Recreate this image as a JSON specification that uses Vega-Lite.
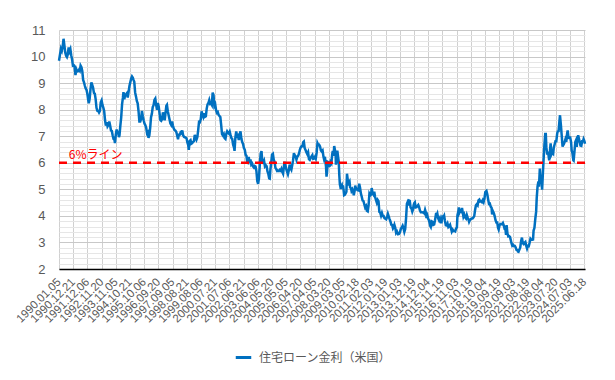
{
"$schema": "https://vega.github.io/schema/vega-lite/v6.json",
"width": 526, "height": 239,
"autosize": "none",
"padding": {"left": 59, "top": 30, "right": 30, "bottom": 111},
"background": "white",
"config": {"view": {"stroke": null}, "font": "Liberation Sans"},
"resolve": {"axis": {"x": "independent", "y": "independent"}},
"layer": [
{
"data": {"values": [
{"d":"1990-01-05","v":9.84},{"d":"1990-02-02","v":10.11},{"d":"1990-02-23","v":10.30},{"d":"1990-03-16","v":10.22},{"d":"1990-04-06","v":10.38},{"d":"1990-04-27","v":10.67},{"d":"1990-05-18","v":10.42},{"d":"1990-06-08","v":10.15},{"d":"1990-06-29","v":10.03},{"d":"1990-07-20","v":9.98},{"d":"1990-08-10","v":10.08},{"d":"1990-08-31","v":10.34},{"d":"1990-09-21","v":10.20},{"d":"1990-10-12","v":10.28},{"d":"1990-11-02","v":10.05},{"d":"1990-11-23","v":9.90},{"d":"1990-12-14","v":9.66},
{"d":"1991-01-04","v":9.67},{"d":"1991-01-25","v":9.60},{"d":"1991-02-15","v":9.30},{"d":"1991-03-08","v":9.52},{"d":"1991-03-29","v":9.44},{"d":"1991-04-19","v":9.45},{"d":"1991-05-10","v":9.50},{"d":"1991-05-31","v":9.46},{"d":"1991-06-21","v":9.66},{"d":"1991-07-12","v":9.60},{"d":"1991-08-02","v":9.45},{"d":"1991-08-23","v":9.12},{"d":"1991-09-13","v":9.03},{"d":"1991-10-04","v":8.90},{"d":"1991-10-25","v":8.80},{"d":"1991-11-15","v":8.74},{"d":"1991-12-06","v":8.59},{"d":"1991-12-27","v":8.35},
{"d":"1992-01-10","v":8.24},{"d":"1992-01-31","v":8.42},{"d":"1992-02-21","v":8.78},{"d":"1992-03-13","v":9.03},{"d":"1992-04-03","v":8.93},{"d":"1992-04-24","v":8.82},{"d":"1992-05-15","v":8.63},{"d":"1992-06-05","v":8.60},{"d":"1992-06-26","v":8.40},{"d":"1992-07-17","v":8.07},{"d":"1992-08-07","v":7.96},{"d":"1992-08-28","v":7.95},{"d":"1992-09-18","v":7.89},{"d":"1992-10-09","v":7.95},{"d":"1992-10-30","v":8.28},{"d":"1992-11-20","v":8.35},{"d":"1992-12-11","v":8.18},
{"d":"1993-01-01","v":8.08},{"d":"1993-01-22","v":7.95},{"d":"1993-02-12","v":7.61},{"d":"1993-03-05","v":7.40},{"d":"1993-03-26","v":7.53},{"d":"1993-04-16","v":7.37},{"d":"1993-05-07","v":7.42},{"d":"1993-05-28","v":7.55},{"d":"1993-06-18","v":7.40},{"d":"1993-07-09","v":7.22},{"d":"1993-07-30","v":7.20},{"d":"1993-08-20","v":7.03},{"d":"1993-09-10","v":6.90},{"d":"1993-10-01","v":6.88},{"d":"1993-10-15","v":6.74},{"d":"1993-11-05","v":7.06},{"d":"1993-11-26","v":7.25},{"d":"1993-12-17","v":7.15},
{"d":"1994-01-07","v":7.09},{"d":"1994-01-21","v":6.97},{"d":"1994-02-04","v":7.04},{"d":"1994-02-25","v":7.40},{"d":"1994-03-18","v":7.71},{"d":"1994-04-08","v":8.20},{"d":"1994-04-29","v":8.45},{"d":"1994-05-13","v":8.66},{"d":"1994-06-03","v":8.39},{"d":"1994-06-24","v":8.56},{"d":"1994-07-15","v":8.58},{"d":"1994-08-05","v":8.62},{"d":"1994-08-26","v":8.46},{"d":"1994-09-16","v":8.67},{"d":"1994-10-07","v":8.89},{"d":"1994-10-28","v":9.03},{"d":"1994-11-18","v":9.17},{"d":"1994-12-09","v":9.25},{"d":"1994-12-30","v":9.20},
{"d":"1995-01-13","v":9.13},{"d":"1995-02-03","v":9.05},{"d":"1995-02-24","v":8.65},{"d":"1995-03-17","v":8.50},{"d":"1995-04-07","v":8.33},{"d":"1995-04-28","v":8.24},{"d":"1995-05-19","v":7.95},{"d":"1995-06-09","v":7.55},{"d":"1995-06-30","v":7.55},{"d":"1995-07-21","v":7.65},{"d":"1995-08-11","v":7.95},{"d":"1995-09-01","v":7.75},{"d":"1995-09-22","v":7.60},{"d":"1995-10-13","v":7.48},{"d":"1995-11-03","v":7.41},{"d":"1995-11-24","v":7.32},{"d":"1995-12-15","v":7.11},
{"d":"1996-01-05","v":7.15},{"d":"1996-01-19","v":6.94},{"d":"1996-02-09","v":7.03},{"d":"1996-03-01","v":7.31},{"d":"1996-03-22","v":7.72},{"d":"1996-04-12","v":7.85},{"d":"1996-05-03","v":8.10},{"d":"1996-05-24","v":8.17},{"d":"1996-06-14","v":8.37},{"d":"1996-07-05","v":8.42},{"d":"1996-07-26","v":8.18},{"d":"1996-08-16","v":8.00},{"d":"1996-09-06","v":8.25},{"d":"1996-09-27","v":8.12},{"d":"1996-10-18","v":7.86},{"d":"1996-11-08","v":7.61},{"d":"1996-11-29","v":7.58},{"d":"1996-12-20","v":7.64},
{"d":"1997-01-10","v":7.90},{"d":"1997-01-31","v":7.79},{"d":"1997-02-21","v":7.60},{"d":"1997-03-14","v":7.88},{"d":"1997-04-04","v":8.15},{"d":"1997-04-18","v":8.18},{"d":"1997-05-09","v":7.94},{"d":"1997-05-30","v":7.79},{"d":"1997-06-20","v":7.64},{"d":"1997-07-11","v":7.49},{"d":"1997-08-01","v":7.43},{"d":"1997-08-22","v":7.55},{"d":"1997-09-12","v":7.40},{"d":"1997-10-03","v":7.29},{"d":"1997-10-24","v":7.23},{"d":"1997-11-14","v":7.21},{"d":"1997-12-05","v":7.16},{"d":"1997-12-26","v":7.03},
{"d":"1998-01-16","v":6.89},{"d":"1998-02-06","v":7.06},{"d":"1998-02-27","v":7.06},{"d":"1998-03-20","v":7.14},{"d":"1998-04-10","v":7.11},{"d":"1998-05-01","v":7.22},{"d":"1998-05-22","v":7.04},{"d":"1998-06-12","v":6.98},{"d":"1998-07-03","v":6.96},{"d":"1998-07-24","v":6.95},{"d":"1998-08-14","v":6.92},{"d":"1998-09-04","v":6.77},{"d":"1998-09-25","v":6.66},{"d":"1998-10-09","v":6.49},{"d":"1998-10-30","v":6.82},{"d":"1998-11-20","v":6.85},{"d":"1998-12-11","v":6.72},
{"d":"1999-01-01","v":6.74},{"d":"1999-01-22","v":6.79},{"d":"1999-02-12","v":6.81},{"d":"1999-03-05","v":7.05},{"d":"1999-03-26","v":6.95},{"d":"1999-04-16","v":6.87},{"d":"1999-05-07","v":6.96},{"d":"1999-05-28","v":7.23},{"d":"1999-06-18","v":7.54},{"d":"1999-07-09","v":7.53},{"d":"1999-07-30","v":7.63},{"d":"1999-08-20","v":7.94},{"d":"1999-09-10","v":7.82},{"d":"1999-10-01","v":7.73},{"d":"1999-10-22","v":7.86},{"d":"1999-11-12","v":7.73},{"d":"1999-12-03","v":7.75},{"d":"1999-12-24","v":8.04},
{"d":"2000-01-14","v":8.20},{"d":"2000-02-04","v":8.25},{"d":"2000-02-25","v":8.36},{"d":"2000-03-17","v":8.22},{"d":"2000-04-07","v":8.24},{"d":"2000-04-28","v":8.18},{"d":"2000-05-19","v":8.64},{"d":"2000-06-09","v":8.55},{"d":"2000-06-30","v":8.14},{"d":"2000-07-21","v":8.20},{"d":"2000-08-11","v":7.98},{"d":"2000-09-01","v":7.88},{"d":"2000-09-22","v":7.91},{"d":"2000-10-13","v":7.80},{"d":"2000-11-03","v":7.76},{"d":"2000-11-24","v":7.72},{"d":"2000-12-15","v":7.42},
{"d":"2001-01-05","v":7.08},{"d":"2001-01-26","v":7.03},{"d":"2001-02-16","v":7.08},{"d":"2001-03-09","v":6.93},{"d":"2001-03-30","v":6.90},{"d":"2001-04-20","v":7.09},{"d":"2001-05-11","v":7.18},{"d":"2001-06-01","v":7.13},{"d":"2001-06-22","v":7.10},{"d":"2001-07-13","v":7.17},{"d":"2001-08-03","v":7.04},{"d":"2001-08-24","v":6.93},{"d":"2001-09-14","v":6.89},{"d":"2001-10-05","v":6.68},{"d":"2001-10-26","v":6.58},{"d":"2001-11-09","v":6.45},{"d":"2001-11-30","v":6.96},{"d":"2001-12-21","v":7.18},
{"d":"2002-01-11","v":7.00},{"d":"2002-02-01","v":7.03},{"d":"2002-02-22","v":6.86},{"d":"2002-03-15","v":7.07},{"d":"2002-04-05","v":7.18},{"d":"2002-04-26","v":6.91},{"d":"2002-05-17","v":6.78},{"d":"2002-06-07","v":6.71},{"d":"2002-06-28","v":6.55},{"d":"2002-07-19","v":6.49},{"d":"2002-08-09","v":6.30},{"d":"2002-08-30","v":6.26},{"d":"2002-09-20","v":6.00},{"d":"2002-10-11","v":5.99},{"d":"2002-10-25","v":6.22},{"d":"2002-11-15","v":6.00},{"d":"2002-12-06","v":6.13},{"d":"2002-12-27","v":5.93},
{"d":"2003-01-17","v":5.97},{"d":"2003-02-07","v":5.86},{"d":"2003-02-28","v":5.82},{"d":"2003-03-21","v":5.88},{"d":"2003-04-11","v":5.86},{"d":"2003-05-02","v":5.69},{"d":"2003-05-23","v":5.31},{"d":"2003-06-13","v":5.21},{"d":"2003-07-03","v":5.40},{"d":"2003-07-25","v":5.94},{"d":"2003-08-15","v":6.34},{"d":"2003-09-05","v":6.44},{"d":"2003-09-26","v":6.00},{"d":"2003-10-17","v":5.99},{"d":"2003-11-07","v":6.07},{"d":"2003-11-28","v":5.87},{"d":"2003-12-19","v":5.91},
{"d":"2004-01-09","v":5.87},{"d":"2004-01-30","v":5.67},{"d":"2004-02-20","v":5.58},{"d":"2004-03-12","v":5.41},{"d":"2004-03-26","v":5.40},{"d":"2004-04-09","v":5.71},{"d":"2004-04-30","v":6.00},{"d":"2004-05-21","v":6.31},{"d":"2004-06-11","v":6.34},{"d":"2004-07-02","v":6.12},{"d":"2004-07-23","v":6.04},{"d":"2004-08-13","v":5.81},{"d":"2004-09-03","v":5.76},{"d":"2004-09-24","v":5.69},{"d":"2004-10-15","v":5.70},{"d":"2004-11-05","v":5.69},{"d":"2004-11-26","v":5.73},{"d":"2004-12-17","v":5.70},
{"d":"2005-01-07","v":5.77},{"d":"2005-01-28","v":5.66},{"d":"2005-02-18","v":5.59},{"d":"2005-03-11","v":5.87},{"d":"2005-03-25","v":6.04},{"d":"2005-04-15","v":5.91},{"d":"2005-05-06","v":5.77},{"d":"2005-05-27","v":5.66},{"d":"2005-06-17","v":5.57},{"d":"2005-07-08","v":5.71},{"d":"2005-07-29","v":5.93},{"d":"2005-08-19","v":5.80},{"d":"2005-09-09","v":5.74},{"d":"2005-09-30","v":5.91},{"d":"2005-10-21","v":6.09},{"d":"2005-11-11","v":6.36},{"d":"2005-12-02","v":6.28},{"d":"2005-12-23","v":6.24},
{"d":"2006-01-13","v":6.12},{"d":"2006-02-03","v":6.23},{"d":"2006-02-24","v":6.26},{"d":"2006-03-17","v":6.35},{"d":"2006-04-07","v":6.49},{"d":"2006-04-28","v":6.58},{"d":"2006-05-19","v":6.62},{"d":"2006-06-09","v":6.62},{"d":"2006-06-30","v":6.78},{"d":"2006-07-14","v":6.80},{"d":"2006-08-04","v":6.55},{"d":"2006-08-25","v":6.48},{"d":"2006-09-15","v":6.40},{"d":"2006-10-06","v":6.33},{"d":"2006-10-27","v":6.40},{"d":"2006-11-17","v":6.14},{"d":"2006-12-08","v":6.11},{"d":"2006-12-29","v":6.18},
{"d":"2007-01-19","v":6.24},{"d":"2007-02-09","v":6.29},{"d":"2007-03-02","v":6.15},{"d":"2007-03-23","v":6.16},{"d":"2007-04-13","v":6.22},{"d":"2007-05-04","v":6.16},{"d":"2007-05-25","v":6.37},{"d":"2007-06-15","v":6.74},{"d":"2007-07-06","v":6.67},{"d":"2007-07-27","v":6.68},{"d":"2007-08-17","v":6.62},{"d":"2007-09-07","v":6.46},{"d":"2007-09-28","v":6.42},{"d":"2007-10-19","v":6.46},{"d":"2007-11-09","v":6.24},{"d":"2007-11-30","v":6.10},{"d":"2007-12-21","v":6.14},
{"d":"2008-01-11","v":5.87},{"d":"2008-01-24","v":5.48},{"d":"2008-02-07","v":5.67},{"d":"2008-02-21","v":6.04},{"d":"2008-03-06","v":6.03},{"d":"2008-03-20","v":5.87},{"d":"2008-04-10","v":5.88},{"d":"2008-05-01","v":6.03},{"d":"2008-05-22","v":5.98},{"d":"2008-06-12","v":6.32},{"d":"2008-06-26","v":6.45},{"d":"2008-07-17","v":6.26},{"d":"2008-07-31","v":6.63},{"d":"2008-08-14","v":6.52},{"d":"2008-09-04","v":6.35},{"d":"2008-09-11","v":5.93},{"d":"2008-10-02","v":6.10},{"d":"2008-10-16","v":6.46},{"d":"2008-11-06","v":6.20},{"d":"2008-11-20","v":6.04},{"d":"2008-12-04","v":5.53},{"d":"2008-12-18","v":5.19},{"d":"2008-12-31","v":5.10},
{"d":"2009-01-08","v":5.01},{"d":"2009-01-22","v":5.12},{"d":"2009-02-05","v":5.16},{"d":"2009-02-19","v":5.04},{"d":"2009-03-05","v":5.15},{"d":"2009-03-19","v":4.98},{"d":"2009-04-02","v":4.78},{"d":"2009-04-23","v":4.80},{"d":"2009-05-14","v":4.86},{"d":"2009-05-28","v":4.91},{"d":"2009-06-11","v":5.59},{"d":"2009-06-25","v":5.42},{"d":"2009-07-16","v":5.14},{"d":"2009-07-30","v":5.25},{"d":"2009-08-13","v":5.29},{"d":"2009-08-27","v":5.08},{"d":"2009-09-17","v":5.04},{"d":"2009-10-01","v":4.94},{"d":"2009-10-22","v":5.00},{"d":"2009-11-12","v":4.91},{"d":"2009-11-26","v":4.78},{"d":"2009-12-17","v":4.94},{"d":"2009-12-31","v":5.14},
{"d":"2010-01-14","v":5.06},{"d":"2010-02-04","v":5.01},{"d":"2010-02-25","v":4.97},{"d":"2010-03-18","v":4.96},{"d":"2010-04-08","v":5.21},{"d":"2010-04-29","v":5.06},{"d":"2010-05-20","v":4.84},{"d":"2010-06-10","v":4.72},{"d":"2010-07-01","v":4.58},{"d":"2010-07-22","v":4.56},{"d":"2010-08-12","v":4.44},{"d":"2010-09-02","v":4.32},{"d":"2010-09-23","v":4.37},{"d":"2010-10-14","v":4.19},{"d":"2010-11-04","v":4.17},{"d":"2010-11-25","v":4.40},{"d":"2010-12-16","v":4.83},
{"d":"2011-01-06","v":4.77},{"d":"2011-01-27","v":4.80},{"d":"2011-02-10","v":5.05},{"d":"2011-03-03","v":4.87},{"d":"2011-03-24","v":4.81},{"d":"2011-04-14","v":4.91},{"d":"2011-05-05","v":4.71},{"d":"2011-05-26","v":4.60},{"d":"2011-06-16","v":4.50},{"d":"2011-07-07","v":4.60},{"d":"2011-07-28","v":4.55},{"d":"2011-08-18","v":4.15},{"d":"2011-09-08","v":4.12},{"d":"2011-09-29","v":4.01},{"d":"2011-10-20","v":4.11},{"d":"2011-11-10","v":4.00},{"d":"2011-12-01","v":4.00},{"d":"2011-12-22","v":3.91},
{"d":"2012-01-12","v":3.89},{"d":"2012-02-02","v":3.87},{"d":"2012-02-23","v":3.95},{"d":"2012-03-15","v":4.08},{"d":"2012-04-05","v":3.98},{"d":"2012-04-26","v":3.88},{"d":"2012-05-17","v":3.79},{"d":"2012-06-07","v":3.67},{"d":"2012-06-28","v":3.66},{"d":"2012-07-19","v":3.53},{"d":"2012-08-09","v":3.59},{"d":"2012-08-23","v":3.66},{"d":"2012-09-13","v":3.55},{"d":"2012-10-04","v":3.36},{"d":"2012-10-25","v":3.41},{"d":"2012-11-21","v":3.31},{"d":"2012-12-13","v":3.32},{"d":"2012-12-27","v":3.35},
{"d":"2013-01-10","v":3.40},{"d":"2013-01-31","v":3.53},{"d":"2013-02-21","v":3.56},{"d":"2013-03-14","v":3.63},{"d":"2013-04-04","v":3.54},{"d":"2013-04-25","v":3.40},{"d":"2013-05-16","v":3.51},{"d":"2013-06-06","v":3.91},{"d":"2013-06-27","v":4.46},{"d":"2013-07-11","v":4.51},{"d":"2013-08-01","v":4.39},{"d":"2013-08-22","v":4.58},{"d":"2013-09-05","v":4.57},{"d":"2013-09-26","v":4.32},{"d":"2013-10-17","v":4.28},{"d":"2013-11-07","v":4.16},{"d":"2013-11-21","v":4.22},{"d":"2013-12-12","v":4.42},{"d":"2013-12-26","v":4.48},
{"d":"2014-01-09","v":4.51},{"d":"2014-01-30","v":4.32},{"d":"2014-02-20","v":4.33},{"d":"2014-03-13","v":4.37},{"d":"2014-04-03","v":4.41},{"d":"2014-04-24","v":4.33},{"d":"2014-05-15","v":4.20},{"d":"2014-06-05","v":4.14},{"d":"2014-06-26","v":4.14},{"d":"2014-07-17","v":4.13},{"d":"2014-08-07","v":4.14},{"d":"2014-08-28","v":4.10},{"d":"2014-09-18","v":4.23},{"d":"2014-10-09","v":4.12},{"d":"2014-10-23","v":3.92},{"d":"2014-11-13","v":4.01},{"d":"2014-12-04","v":3.89},{"d":"2014-12-24","v":3.83},
{"d":"2015-01-08","v":3.73},{"d":"2015-01-22","v":3.63},{"d":"2015-02-05","v":3.59},{"d":"2015-02-26","v":3.80},{"d":"2015-03-19","v":3.78},{"d":"2015-04-09","v":3.66},{"d":"2015-04-30","v":3.68},{"d":"2015-05-21","v":3.84},{"d":"2015-06-11","v":4.04},{"d":"2015-06-25","v":4.02},{"d":"2015-07-16","v":4.09},{"d":"2015-08-06","v":3.91},{"d":"2015-08-27","v":3.84},{"d":"2015-09-17","v":3.91},{"d":"2015-10-08","v":3.76},{"d":"2015-10-29","v":3.76},{"d":"2015-11-19","v":3.97},{"d":"2015-12-10","v":3.95},{"d":"2015-12-31","v":4.01},
{"d":"2016-01-21","v":3.81},{"d":"2016-02-11","v":3.65},{"d":"2016-03-03","v":3.64},{"d":"2016-03-24","v":3.71},{"d":"2016-04-14","v":3.58},{"d":"2016-05-05","v":3.61},{"d":"2016-05-26","v":3.66},{"d":"2016-06-16","v":3.54},{"d":"2016-07-07","v":3.41},{"d":"2016-07-28","v":3.48},{"d":"2016-08-18","v":3.43},{"d":"2016-09-08","v":3.44},{"d":"2016-09-29","v":3.42},{"d":"2016-10-20","v":3.52},{"d":"2016-11-10","v":3.57},{"d":"2016-11-24","v":4.03},{"d":"2016-12-15","v":4.16},{"d":"2016-12-29","v":4.32},
{"d":"2017-01-12","v":4.12},{"d":"2017-02-02","v":4.19},{"d":"2017-02-23","v":4.16},{"d":"2017-03-16","v":4.30},{"d":"2017-04-06","v":4.10},{"d":"2017-04-20","v":3.97},{"d":"2017-05-11","v":4.05},{"d":"2017-06-01","v":3.94},{"d":"2017-06-22","v":3.90},{"d":"2017-07-13","v":4.03},{"d":"2017-08-03","v":3.93},{"d":"2017-08-24","v":3.86},{"d":"2017-09-07","v":3.78},{"d":"2017-09-28","v":3.85},{"d":"2017-10-19","v":3.88},{"d":"2017-11-09","v":3.90},{"d":"2017-11-30","v":3.90},{"d":"2017-12-21","v":3.94},
{"d":"2018-01-11","v":3.99},{"d":"2018-02-01","v":4.22},{"d":"2018-02-22","v":4.40},{"d":"2018-03-15","v":4.44},{"d":"2018-04-05","v":4.40},{"d":"2018-04-26","v":4.58},{"d":"2018-05-17","v":4.61},{"d":"2018-06-07","v":4.54},{"d":"2018-06-28","v":4.55},{"d":"2018-07-19","v":4.52},{"d":"2018-08-09","v":4.59},{"d":"2018-08-30","v":4.52},{"d":"2018-09-20","v":4.65},{"d":"2018-10-11","v":4.90},{"d":"2018-11-08","v":4.94},{"d":"2018-11-29","v":4.81},{"d":"2018-12-20","v":4.62},
{"d":"2019-01-10","v":4.45},{"d":"2019-01-31","v":4.46},{"d":"2019-02-21","v":4.35},{"d":"2019-03-14","v":4.31},{"d":"2019-03-28","v":4.06},{"d":"2019-04-18","v":4.17},{"d":"2019-05-09","v":4.10},{"d":"2019-05-30","v":3.99},{"d":"2019-06-20","v":3.84},{"d":"2019-07-11","v":3.75},{"d":"2019-08-01","v":3.75},{"d":"2019-08-22","v":3.55},{"d":"2019-09-05","v":3.49},{"d":"2019-09-26","v":3.64},{"d":"2019-10-17","v":3.69},{"d":"2019-11-07","v":3.69},{"d":"2019-11-28","v":3.68},{"d":"2019-12-19","v":3.73},
{"d":"2020-01-09","v":3.64},{"d":"2020-01-30","v":3.51},{"d":"2020-02-20","v":3.49},{"d":"2020-03-05","v":3.29},{"d":"2020-03-19","v":3.65},{"d":"2020-04-09","v":3.33},{"d":"2020-04-30","v":3.23},{"d":"2020-05-21","v":3.24},{"d":"2020-06-11","v":3.21},{"d":"2020-07-02","v":3.07},{"d":"2020-07-16","v":2.98},{"d":"2020-08-06","v":2.88},{"d":"2020-08-27","v":2.91},{"d":"2020-09-17","v":2.87},{"d":"2020-10-08","v":2.87},{"d":"2020-10-29","v":2.81},{"d":"2020-11-19","v":2.72},{"d":"2020-12-10","v":2.71},{"d":"2020-12-24","v":2.66},
{"d":"2021-01-07","v":2.65},{"d":"2021-01-28","v":2.73},{"d":"2021-02-18","v":2.81},{"d":"2021-03-11","v":3.05},{"d":"2021-04-01","v":3.18},{"d":"2021-04-22","v":2.97},{"d":"2021-05-13","v":2.94},{"d":"2021-06-03","v":2.99},{"d":"2021-06-24","v":3.02},{"d":"2021-07-15","v":2.88},{"d":"2021-08-05","v":2.77},{"d":"2021-08-26","v":2.87},{"d":"2021-09-16","v":2.86},{"d":"2021-10-07","v":2.99},{"d":"2021-10-28","v":3.14},{"d":"2021-11-18","v":3.10},{"d":"2021-12-09","v":3.10},{"d":"2021-12-30","v":3.11},
{"d":"2022-01-13","v":3.45},{"d":"2022-02-03","v":3.55},{"d":"2022-02-24","v":3.89},{"d":"2022-03-17","v":4.16},{"d":"2022-03-31","v":4.67},{"d":"2022-04-21","v":5.11},{"d":"2022-05-12","v":5.30},{"d":"2022-05-26","v":5.10},{"d":"2022-06-16","v":5.78},{"d":"2022-07-07","v":5.30},{"d":"2022-07-28","v":5.30},{"d":"2022-08-11","v":4.99},{"d":"2022-09-01","v":5.66},{"d":"2022-09-22","v":6.29},{"d":"2022-10-06","v":6.66},{"d":"2022-10-27","v":7.08},{"d":"2022-11-10","v":7.08},{"d":"2022-11-24","v":6.58},{"d":"2022-12-15","v":6.31},{"d":"2022-12-29","v":6.42},
{"d":"2023-01-12","v":6.33},{"d":"2023-02-02","v":6.09},{"d":"2023-02-23","v":6.50},{"d":"2023-03-09","v":6.73},{"d":"2023-03-30","v":6.32},{"d":"2023-04-20","v":6.39},{"d":"2023-05-11","v":6.35},{"d":"2023-05-25","v":6.57},{"d":"2023-06-15","v":6.69},{"d":"2023-07-06","v":6.81},{"d":"2023-07-27","v":6.81},{"d":"2023-08-17","v":7.09},{"d":"2023-08-31","v":7.18},{"d":"2023-09-21","v":7.19},{"d":"2023-10-12","v":7.57},{"d":"2023-10-26","v":7.79},{"d":"2023-11-16","v":7.44},{"d":"2023-12-07","v":7.03},{"d":"2023-12-28","v":6.61},
{"d":"2024-01-11","v":6.66},{"d":"2024-01-25","v":6.69},{"d":"2024-02-15","v":6.77},{"d":"2024-03-07","v":6.88},{"d":"2024-03-28","v":6.79},{"d":"2024-04-18","v":7.10},{"d":"2024-05-02","v":7.22},{"d":"2024-05-23","v":6.94},{"d":"2024-06-13","v":6.95},{"d":"2024-07-03","v":6.95},{"d":"2024-07-25","v":6.78},{"d":"2024-08-08","v":6.47},{"d":"2024-08-29","v":6.35},{"d":"2024-09-19","v":6.09},{"d":"2024-09-26","v":6.08},{"d":"2024-10-17","v":6.44},{"d":"2024-11-07","v":6.79},{"d":"2024-11-21","v":6.84},{"d":"2024-12-12","v":6.60},{"d":"2024-12-26","v":6.85},
{"d":"2025-01-16","v":7.04},{"d":"2025-02-06","v":6.89},{"d":"2025-02-27","v":6.76},{"d":"2025-03-13","v":6.65},{"d":"2025-04-03","v":6.64},{"d":"2025-04-24","v":6.81},{"d":"2025-05-15","v":6.81},{"d":"2025-05-29","v":6.89},{"d":"2025-06-12","v":6.84},{"d":"2025-06-26","v":6.77},{"d":"2025-07-03","v":6.72}
]},
"mark": {"type": "line", "strokeWidth": 2.5},
"encoding": {
"x": {"field": "d", "type": "temporal",
 "scale": {"type": "utc", "domain": [{"year":1990,"month":1,"date":5,"utc":true},{"year":2025,"month":7,"date":3,"utc":true}]},
 "axis": {"title": null,
  "values": [{"year":1990,"month":1,"date":5,"utc":true},{"year":1990,"month":12,"date":21,"utc":true},{"year":1991,"month":12,"date":6,"utc":true},{"year":1992,"month":11,"date":20,"utc":true},{"year":1993,"month":11,"date":5,"utc":true},{"year":1994,"month":10,"date":21,"utc":true},{"year":1995,"month":10,"date":6,"utc":true},{"year":1996,"month":9,"date":20,"utc":true},{"year":1997,"month":9,"date":5,"utc":true},{"year":1998,"month":8,"date":21,"utc":true},{"year":1999,"month":8,"date":6,"utc":true},{"year":2000,"month":7,"date":21,"utc":true},{"year":2001,"month":7,"date":6,"utc":true},{"year":2002,"month":6,"date":21,"utc":true},{"year":2003,"month":6,"date":6,"utc":true},{"year":2004,"month":5,"date":20,"utc":true},{"year":2005,"month":5,"date":5,"utc":true},{"year":2006,"month":4,"date":20,"utc":true},{"year":2007,"month":4,"date":5,"utc":true},{"year":2008,"month":3,"date":20,"utc":true},{"year":2009,"month":3,"date":5,"utc":true},{"year":2010,"month":2,"date":18,"utc":true},{"year":2011,"month":2,"date":3,"utc":true},{"year":2012,"month":1,"date":19,"utc":true},{"year":2013,"month":1,"date":3,"utc":true},{"year":2013,"month":12,"date":19,"utc":true},{"year":2014,"month":12,"date":4,"utc":true},{"year":2015,"month":11,"date":19,"utc":true},{"year":2016,"month":11,"date":3,"utc":true},{"year":2017,"month":10,"date":19,"utc":true},{"year":2018,"month":10,"date":4,"utc":true},{"year":2019,"month":9,"date":19,"utc":true},{"year":2020,"month":9,"date":3,"utc":true},{"year":2021,"month":8,"date":19,"utc":true},{"year":2022,"month":8,"date":4,"utc":true},{"year":2023,"month":7,"date":20,"utc":true},{"year":2024,"month":7,"date":3,"utc":true},{"year":2025,"month":6,"date":18,"utc":true}],
  "labelExpr": "utcFormat(datum.value, '%Y.%m.%d')",
  "labelAngle": -45, "labelAlign": "right", "labelBaseline": "middle",
  "labelFontSize": 11.5, "labelColor": "#595959", "labelPadding": 11,
  "labelOverlap": false, "labelBound": false, "labelFlush": false,
  "ticks": false, "grid": true, "gridColor": "#d0d0d0", "gridWidth": 1,
  "domainColor": "#000000", "domainWidth": 1.5}},
"y": {"field": "v", "type": "quantitative",
 "scale": {"domain": [2, 11], "nice": false, "zero": false},
 "axis": {"title": null,
  "values": [2,2.2,2.4,2.6,2.8,3,3.2,3.4,3.6,3.8,4,4.2,4.4,4.6,4.8,5,5.2,5.4,5.6,5.8,6,6.2,6.4,6.6,6.8,7,7.2,7.4,7.6,7.8,8,8.2,8.4,8.6,8.8,9,9.2,9.4,9.6,9.8,10,10.2,10.4,10.6,10.8,11],
  "labelExpr": "abs(datum.value - round(datum.value)) < 0.01 ? format(datum.value, 'd') : ''",
  "gridColor": {"condition": {"test": "abs(datum.value - round(datum.value)) < 0.01", "value": "#c8c8c8"}, "value": "#e6e6e6"},
  "grid": true, "ticks": false, "domain": false, "labelOverlap": false, "labelFlush": false,
  "labelFontSize": 13, "labelColor": "#595959", "labelPadding": 14}},
"color": {"datum": "住宅ローン金利（米国）", "type": "nominal",
 "scale": {"range": ["#0070c0"]},
 "legend": {"title": null, "orient": "none", "legendX": 175, "legendY": 318,
  "symbolType": "stroke", "symbolStrokeWidth": 3, "symbolSize": 240,
  "labelFont": "Noto Sans CJK JP", "labelFontSize": 12, "labelColor": "#595959", "labelOffset": 6}}
}
},
{
"data": {"values": [{"v": 6}]},
"mark": {"type": "rule", "color": "#ff0000", "strokeWidth": 2.5, "strokeDash": [8, 6]},
"encoding": {"y": {"field": "v", "type": "quantitative", "axis": null}}
},
{
"data": {"values": [{"d": "1990-09-05", "v": 6, "t": "6%ライン"}]},
"mark": {"type": "text", "color": "#ff0000", "align": "left", "baseline": "bottom", "dy": -1, "fontSize": 12, "font": "Noto Sans CJK JP"},
"encoding": {"x": {"field": "d", "type": "temporal", "axis": null}, "y": {"field": "v", "type": "quantitative", "axis": null}, "text": {"field": "t"}}
}
]
}
